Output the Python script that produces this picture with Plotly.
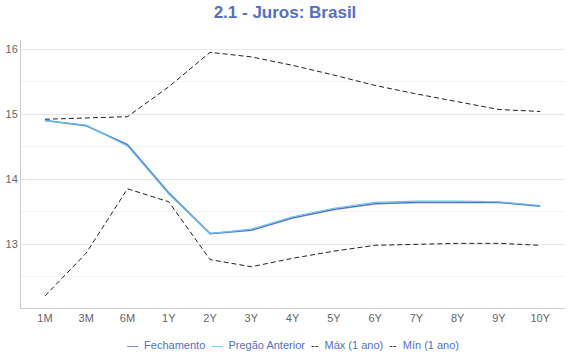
import plotly.graph_objects as go

categories = ["1M", "3M", "6M", "1Y", "2Y", "3Y", "4Y", "5Y", "6Y", "7Y", "8Y", "9Y", "10Y"]
fechamento = [14.90, 14.82, 14.53, 13.79, 13.16, 13.21, 13.40, 13.53, 13.62, 13.64, 13.64, 13.64, 13.58]
pregao_anterior = [14.90, 14.83, 14.51, 13.77, 13.16, 13.23, 13.42, 13.55, 13.64, 13.66, 13.66, 13.65, 13.59]
max_1ano = [14.92, 14.94, 14.96, 15.42, 15.95, 15.88, 15.75, 15.60, 15.44, 15.31, 15.19, 15.07, 15.04]
min_1ano = [12.20, 12.86, 13.85, 13.65, 12.76, 12.65, 12.78, 12.89, 12.98, 13.00, 13.01, 13.01, 12.98]
y_ticks = [13, 14, 15, 16]

series = [
    ("Fechamento", fechamento, "#5b6fd6", 1.5, "solid"),
    ("Pregão Anterior", pregao_anterior, "#63c3ea", 1.2, "solid"),
    ("Máx (1 ano)", max_1ano, "#222222", 1, "5px,3px"),
    ("Mín (1 ano)", min_1ano, "#222222", 1, "5px,3px"),
]

fig = go.Figure()
legend_parts = []
for name, vals, color, w, dash in series:
    fig.add_trace(go.Scatter(x=categories, y=vals, name=name, mode="lines",
                             line=dict(color=color, width=w, dash=dash), showlegend=False))
    sym = "—" if dash == "solid" else "--"
    legend_parts.append(f'<span style="color:{color}">{sym}</span>  {name}')

fig.add_annotation(text="  ".join(legend_parts), xref="paper", yref="paper",
                   x=0.5, xanchor="center", y=-0.137, yanchor="middle", showarrow=False,
                   font=dict(size=11, color="#5470c6"))

fig.update_layout(
    width=570, height=360,
    margin=dict(l=21, r=5, t=40, b=52),
    paper_bgcolor="white", plot_bgcolor="white",
    font=dict(family="Liberation Sans, Arial, sans-serif", size=11, color="#666666"),
    title=dict(text="<b>2.1 - Juros: Brasil</b>", x=0.5, xanchor="center", y=0.966, yanchor="middle",
               font=dict(size=17, color="#5470c6")),
    showlegend=False,
    hovermode=False,
)
fig.update_xaxes(type="category", range=[-0.58, 12.6], showgrid=False, showline=True,
                 linecolor="#cccccc", linewidth=1, ticks="", tickfont=dict(size=11, color="#666666"),
                 zeroline=False, automargin=False)
fig.update_yaxes(range=[12.015, 16.14], tickvals=y_ticks, showgrid=True, gridcolor="#e8e8e8",
                 showline=True, linecolor="#cccccc", linewidth=1, ticks="", zeroline=False,
                 automargin=False, tickfont=dict(size=11, color="#666666"),
                 minor=dict(dtick=0.5, tick0=12, showgrid=True, gridcolor="#f3f3f3"))

fig.write_html("out.html", config={"displayModeBar": False},
               post_script="document.body.style.margin='0';")
